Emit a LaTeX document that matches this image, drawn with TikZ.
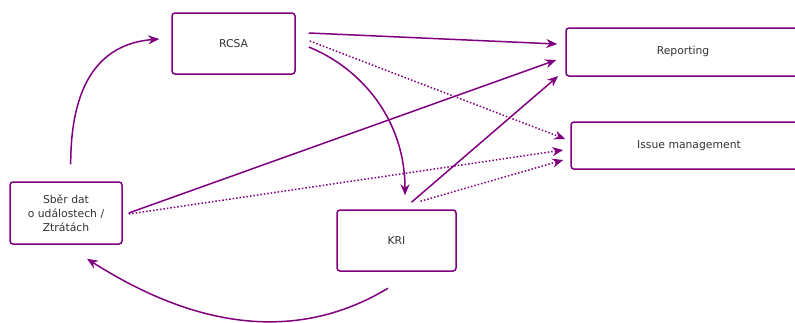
\documentclass[tikz,border=0pt]{standalone}
\usepackage{fontspec}
\setmainfont{DejaVu Sans}
\usetikzlibrary{arrows.meta,calc}
\definecolor{linkpurple}{HTML}{800080}
\definecolor{textgrey}{HTML}{333333}

\begin{document}
\begin{tikzpicture}[x=1pt, y=-1pt,
        box/.style={draw=linkpurple, line width=1.5pt, rounded corners=3pt, fill=white,
            text=textgrey, align=center, inner sep=0pt, font=\fontsize{10.8}{14}\selectfont},
        link/.style={draw=linkpurple, line width=1.5pt, -{Stealth[length=11pt,width=9pt]}},
        dotlink/.style={link, dotted}]

                \useasboundingbox (0,0) rectangle (795,322);
                \node [box, minimum width=123pt, minimum height=61pt] (rcsa) at (233.5,43.5) {RCSA};
                \node [box, minimum width=234pt, minimum height=48pt] (reporting) at (683,52) {Reporting};
                \node [box, minimum width=236pt, minimum height=47pt] (issue) at (689,145.5) {Issue management};
                \node [box, minimum width=112pt, minimum height=62pt] (sber) at (66,213) {Sběr dat\\o událostech /\\Ztrátách};
                \node [box, minimum width=119pt, minimum height=61pt] (kri) at (396.5,240.5) {KRI};

                \draw [link] ($(rcsa.east)+(13,-10.5)$) -- ($(reporting.west)+(-8,-8)$);
                \draw [dotlink] ($(rcsa.east)+(14,-2.5)$) -- ($(issue.west)+(-5,-6.5)$);
                \draw [link] ($(rcsa.east)+(13,3.5)$) .. controls +(52,21) and +(0,-76) .. ($(kri.north)+(8.5,-14)$);
                \draw [link] ($(sber.east)+(6,0)$) -- ($(reporting.west)+(-9,8)$);
                \draw [dotlink] ($(sber.east)+(6,1)$) -- ($(issue.west)+(-7,4.5)$);
                \draw [link] ($(kri.north)+(15,-7)$) -- ($(reporting.west)+(-7,24)$);
                \draw [dotlink] ($(kri.north)+(24,-8)$) -- ($(issue.west)+(-7,14.5)$);
                \draw [link] ($(sber.north)+(4.7,-17)$) .. controls +(0,-77) and +(-62,5) .. ($(rcsa.west)+(-12,-4.5)$);
                \draw [link] ($(kri.south)+(-8.5,16.5)$) .. controls +(-88,53) and +(113,72) .. ($(sber.south)+(21,14)$);
            \end{tikzpicture}
\end{document}
